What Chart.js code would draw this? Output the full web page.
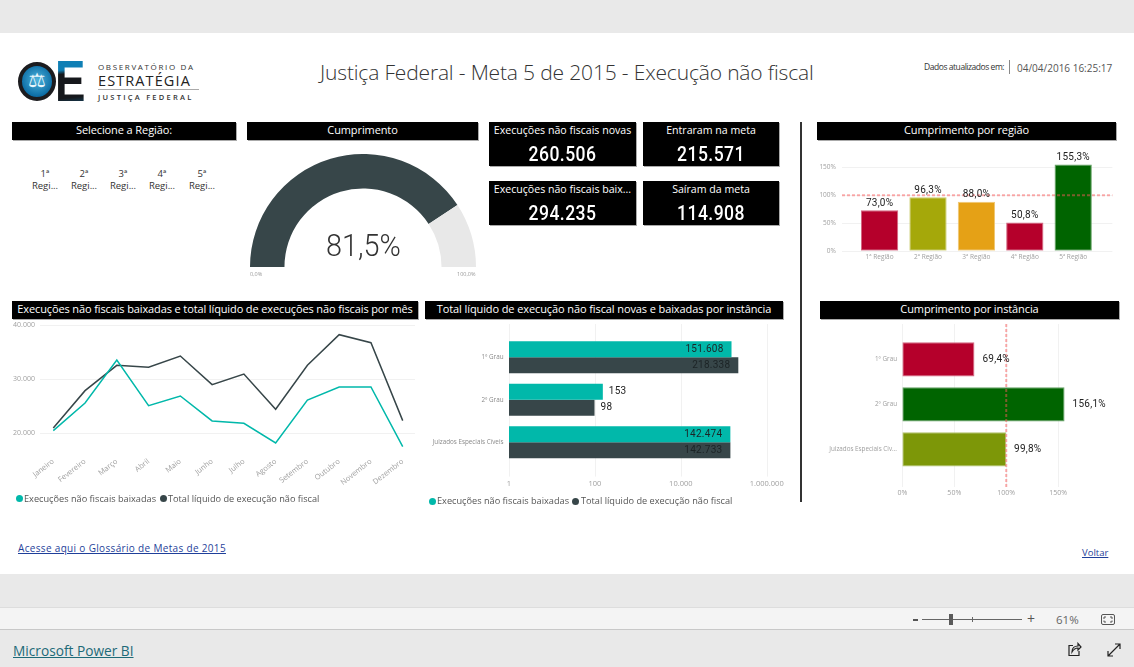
<!DOCTYPE html>
<html lang="pt-BR"><head><meta charset="utf-8">
<script src="https://cdn.jsdelivr.net/npm/chart.js@4"></script>
<style>
html,body{margin:0;padding:0;width:1134px;height:667px;overflow:hidden;background:#e9e9e9;font-family:"Open Sans",sans-serif}
.a{position:absolute;white-space:nowrap}
canvas{position:absolute}
.hd{position:absolute;background:#000;color:#fff;text-align:center;height:18px;line-height:16px;font-size:11px;letter-spacing:-.1px;box-shadow:1px 1px 0 #aaa;white-space:nowrap;overflow:hidden}
.kpi{position:absolute;background:#000;color:#fff;text-align:center;box-shadow:1px 1px 0 #aaa;overflow:hidden}
.kpi .t{font-size:10.6px;line-height:13px;margin-top:2px;white-space:nowrap}
.kpi .v{font-family:Roboto,sans-serif;font-weight:500;font-size:19.5px;line-height:24px;margin-top:6px;letter-spacing:.5px;transform:scaleX(.9)}
.sl{position:absolute;width:40px;text-align:center;font-size:9.5px;line-height:12px;color:#333;top:168px}
.lg{position:absolute;font-size:9.2px;color:#555;white-space:nowrap;line-height:12px}
.dot{position:absolute;width:7px;height:7px;border-radius:50%}
a{color:#1f3f9a}
</style></head><body>
<div class="a" style="left:0;top:33px;width:1134px;height:541px;background:#fff"></div>
<div class="a" style="left:0;top:607px;width:1134px;height:23px;background:#f4f4f4;border-top:1px solid #ddd;border-bottom:1px solid #c8c8c8;box-sizing:border-box"></div>

<!-- logo -->
<div class="a" style="left:18px;top:62px;width:30px;height:31px;border:4.5px solid #1c1c1f;border-radius:50%;background:radial-gradient(circle at 50% 45%,#4fb4dc,#0d6ea6 70%,#0a4a78);text-align:center;color:#eaf7fc;font:20px/29px 'DejaVu Sans'">⚖</div>
<div class="a" style="left:55px;top:48px;font:bold 57px/66px 'Liberation Sans';background:linear-gradient(175deg,#0f7fb5 0 33%,#16181c 39% 74%,#14405a 84%);-webkit-background-clip:text;background-clip:text;color:transparent;transform:scaleX(.8);transform-origin:left top">E</div>
<div class="a" style="left:98px;top:61px;font-size:8px;line-height:11px;letter-spacing:1.65px;color:#333">OBSERVATÓRIO DA</div>
<div class="a" style="left:98px;top:72px;font-size:14.5px;line-height:18px;letter-spacing:1.1px;color:#222">ESTRATÉGIA</div>
<div class="a" style="left:98px;top:89px;width:101px;height:1px;background:#aaa"></div>
<div class="a" style="left:98px;top:92px;font-size:7.5px;line-height:10px;font-weight:600;letter-spacing:2.25px;color:#333">JUSTIÇA FEDERAL</div>

<div class="a" id="title" style="left:320px;top:57px;font-size:21px;line-height:30px;font-weight:300;color:#333;letter-spacing:-.16px">Justiça Federal - Meta 5 de 2015 - Execução não fiscal</div>
<div class="a" style="left:924px;top:61px;font-size:8.5px;line-height:12px;color:#333;letter-spacing:-.45px">Dados atualizados em:</div>
<div class="a" style="left:1009px;top:60px;width:1px;height:14px;background:#888"></div>
<div class="a" style="left:1017px;top:61px;font-size:10px;line-height:14px;color:#555">04/04/2016 16:25:17</div>

<div class="hd" style="left:12px;top:122px;width:224px">Selecione a Região:</div>
<div class="hd" style="left:247px;top:122px;width:231px">Cumprimento</div>
<div class="hd" style="left:817px;top:122px;width:299px">Cumprimento por região</div>
<div class="hd" style="left:12px;top:301px;width:406px;letter-spacing:-.12px">Execuções não fiscais baixadas e total líquido de execuções não fiscais por mês</div>
<div class="hd" style="left:425px;top:301px;width:358px;letter-spacing:-.1px">Total líquido de execução não fiscal novas e baixadas por instância</div>
<div class="hd" style="left:820px;top:301px;width:299px">Cumprimento por instância</div>

<div class="sl" style="left:25px">1ª<br>Regi...</div>
<div class="sl" style="left:64px">2ª<br>Regi...</div>
<div class="sl" style="left:103px">3ª<br>Regi...</div>
<div class="sl" style="left:142px">4ª<br>Regi...</div>
<div class="sl" style="left:182px">5ª<br>Regi...</div>

<div class="kpi" style="left:489px;top:122px;width:147px;height:44px"><div class="t">Execuções não fiscais novas</div><div class="v">260.506</div></div>
<div class="kpi" style="left:643px;top:122px;width:136px;height:44px"><div class="t">Entraram na meta</div><div class="v">215.571</div></div>
<div class="kpi" style="left:489px;top:181px;width:147px;height:44px"><div class="t">Execuções não fiscais baix...</div><div class="v">294.235</div></div>
<div class="kpi" style="left:643px;top:181px;width:136px;height:44px"><div class="t">Saíram da meta</div><div class="v">114.908</div></div>

<div class="a" style="left:800px;top:122px;width:2px;height:380px;background:#333"></div>

<canvas id="gauge"></canvas>
<div class="a" style="left:322px;top:224px;width:80px;text-align:center;font-family:Roboto;font-weight:300;font-size:32px;line-height:42px;color:#333;transform:scaleX(.9)">81,5%</div>
<div class="a" style="left:250px;top:270px;font-size:5.5px;line-height:8px;color:#999">0,0%</div>
<div class="a" style="left:457px;top:270px;font-size:5.5px;line-height:8px;color:#999">100,0%</div>

<canvas id="line"></canvas>
<canvas id="inst"></canvas>
<canvas id="region"></canvas>
<canvas id="comp"></canvas>

<div class="dot" style="left:16px;top:495px;background:#01B8AA"></div>
<div class="lg" style="left:24px;top:493px">Execuções não fiscais baixadas</div>
<div class="dot" style="left:160px;top:495px;background:#374649"></div>
<div class="lg" style="left:168px;top:493px">Total líquido de execução não fiscal</div>
<div class="dot" style="left:429px;top:498px;background:#01B8AA"></div>
<div class="lg" style="left:437px;top:495px">Execuções não fiscais baixadas</div>
<div class="dot" style="left:572px;top:498px;background:#374649"></div>
<div class="lg" style="left:581px;top:495px">Total líquido de execução não fiscal</div>

<a class="a" href="#" style="left:18px;top:541px;font-size:10px;line-height:14px;letter-spacing:.33px">Acesse aqui o Glossário de Metas de 2015</a>
<a class="a" href="#" style="left:1082px;top:546px;font-size:9.5px;line-height:14px">Voltar</a>

<!-- toolbar -->
<div class="a" style="left:913px;top:619px;width:5px;height:2px;background:#555"></div>
<div class="a" style="left:922px;top:619px;width:100px;height:1px;background:#666"></div>
<div class="a" style="left:949px;top:614px;width:4px;height:11px;background:#5a5a5a"></div>
<div class="a" style="left:972px;top:617px;width:1px;height:5px;background:#666"></div>
<div class="a" style="left:1027px;top:611px;font-size:14px;line-height:16px;color:#555">+</div>
<div class="a" style="left:1056px;top:612px;font-size:11.5px;line-height:15px;color:#666">61%</div>
<svg class="a" style="left:1100px;top:613px" width="16" height="13" fill="none" stroke="#555"><rect x="1.5" y="1.5" width="13" height="10" rx="1.5"/><path d="M4 6V4h2M10 4h2v2M12 7.5V9h-2M6 9H4V7.5"/></svg>
<a class="a" href="#" style="left:13px;top:642px;font-size:13.7px;line-height:18px;color:#1d6a78">Microsoft Power BI</a>
<svg class="a" style="left:1067px;top:642px" width="15" height="15" fill="none" stroke="#222" stroke-width="1.2"><path d="M6 3.500H2v10h10V9"/><path d="M5 10c0-4 2.500-6 6-6V1.500l3 3.500-3 3V6c-3 0-4.500 1.500-6 4z"/></svg>
<svg class="a" style="left:1107px;top:643px" width="14" height="14" fill="none" stroke="#222" stroke-width="1.2"><path d="M1 13 13 1M8 1h5v5M1 8v5h5"/></svg>

<script>
// ---- data ----
const months = ["Janeiro","Fevereiro","Março","Abril","Maio","Junho","Julho","Agosto","Setembro","Outubro","Novembro","Dezembro"];
const baixadasMes = [20490,25580,33500,25090,26870,22270,21840,18220,26130,28530,28530,17550];
const liquidoMes  = [20980,27850,32520,32150,34230,28960,30920,24420,32520,38160,36690,22330];
const lineTicks = [20000,30000,40000];
const regions = ["1ª Região","2ª Região","3ª Região","4ª Região","5ª Região"];
const regionValues = [73.0,96.3,88.0,50.8,155.3];
const regionTicks = [0,50,100,150];
const instancias = ["1º Grau","2º Grau","Juizados Especiais Cíveis"];
const baixadasInst = [151608,153,142474];
const liquidoInst  = [218338,98,142733];
const logTicks = [1,100,10000,1000000];
const instShort = ["1º Grau","2º Grau","Juizados Especiais Civ..."];
const compValues = [69.4,156.1,99.8];
const compTicks = [0,50,100,150];
const gaugeValues = [81.5,18.5];
const metaRef = 100;

// ---- colours ----
const teal="#01B8AA", slate="#374649", red="#B5002B", olive="#A5A80A", orange="#E5A116", green="#006400", moss="#7D9708";
const regionColors=[red,olive,orange,red,green];
const compColors=[red,green,moss];
const gridCol="#f1f1f1", tickCol="#a0a0a0";
const tint=(hex,k=.4)=>{const n=parseInt(hex.slice(1),16),c=[n>>16,(n>>8)&255,n&255].map(v=>Math.round(v+(255-v)*k));return `rgb(${c})`;};

// ---- helpers ----
Chart.defaults.animation=false;
Chart.defaults.responsive=false;
Chart.defaults.font.family="'Open Sans',sans-serif";
Chart.defaults.plugins.legend.display=false;
Chart.defaults.plugins.tooltip.enabled=false;

function box(id,l,t,w,h){const c=document.getElementById(id);c.width=w;c.height=h;c.style.left=l+'px';c.style.top=t+'px';c.style.width=w+'px';c.style.height=h+'px';return c;}
const fit=size=>s=>{if(s.isHorizontal())s.height=size;else s.width=size;s.paddingLeft=s.paddingRight=s.paddingTop=s.paddingBottom=0;};
const setTicks=vals=>s=>{s.ticks=vals.map(v=>({value:v}));};
const thousands=v=>String(v).replace(/\B(?=(\d{3})+$)/g,'.');
const pct=v=>v.toFixed(1).replace('.',',')+'%';
const noGrid={display:false,drawTicks:false,drawBorder:false};
const tickFont=(s)=>({size:s});

function gridPlugin(axis,a,b){return{id:'softGrid',beforeDatasetsDraw(ch){
  const {ctx,chartArea:r}=ch,s=ch.scales[axis];ctx.save();ctx.strokeStyle=gridCol;ctx.lineWidth=1;
  s.ticks.forEach(t=>{const p=Math.round(s.getPixelForValue(t.value))+.5;ctx.beginPath();
    if(axis==='y'){ctx.moveTo(r.left-a,p);ctx.lineTo(r.right+b,p);}else{ctx.moveTo(p,r.top-a);ctx.lineTo(p,r.bottom+b);}
    ctx.stroke();});ctx.restore();}};}
function refPlugin(axis,a,b){return{id:'refLine',afterDatasetsDraw(ch){
  const {ctx,chartArea:r}=ch,s=ch.scales[axis],p=s.getPixelForValue(metaRef);ctx.save();
  ctx.strokeStyle="rgba(250,90,90,.5)";ctx.lineWidth=2;ctx.setLineDash([3,2]);ctx.beginPath();
  if(axis==='y'){ctx.moveTo(r.left-a,p);ctx.lineTo(r.right+b,p);}else{ctx.moveTo(p,r.top-a);ctx.lineTo(p,r.bottom+b);}
  ctx.stroke();ctx.restore();}};}
function labelPlugin(fmt,place){return{id:'valueLabels',afterDatasetsDraw(ch){
  const ctx=ch.ctx;ctx.save();ctx.font="10px Roboto,sans-serif";ctx.letterSpacing="0.25px";ctx.fillStyle="#222";
  ch.data.datasets.forEach((d,di)=>ch.getDatasetMeta(di).data.forEach((el,i)=>{place(ctx,el,fmt(d.data[i]));}));
  ctx.restore();}};}
const above=(ctx,el,t)=>{ctx.textAlign='center';ctx.textBaseline='bottom';ctx.fillText(t,el.x,el.y-2);};
const right=(ctx,el,t)=>{ctx.textAlign='left';ctx.textBaseline='middle';ctx.fillText(t,el.x+8,el.y);};
const inOut=(ctx,el,t)=>{ctx.textBaseline='middle';if(el.x-el.base>120){ctx.textAlign='right';ctx.fillStyle="#1c2426";ctx.fillText(t,el.x-8,el.y);}else{ctx.textAlign='left';ctx.fillStyle="#222";ctx.fillText(t,el.x+6,el.y);}};

// ---- gauge ----
new Chart(box('gauge',249.5,153.5,226,113),{type:'doughnut',
  data:{labels:['Cumprimento','Restante'],datasets:[{data:gaugeValues,backgroundColor:[slate,'#E8E8E8'],borderWidth:0}]},
  options:{rotation:-90,circumference:180,cutout:'69.5%'}});

// ---- monthly line chart ----
new Chart(box('line',0,320,425,168),{type:'line',
  data:{labels:months,datasets:[
    {label:'Execuções não fiscais baixadas',data:baixadasMes,borderColor:teal,borderWidth:1.5,pointRadius:0,tension:0},
    {label:'Total líquido de execução não fiscal',data:liquidoMes,borderColor:slate,borderWidth:1.5,pointRadius:0,tension:0}]},
  options:{layout:{padding:{top:4.7,right:6.4,left:0,bottom:0}},
    scales:{
      x:{offset:true,grid:noGrid,border:{display:false},afterFit:fit(33),ticks:{autoSkip:false,minRotation:38,maxRotation:38,padding:2,color:tickCol,font:tickFont(7.5)}},
      y:{min:16000,max:40000,grid:noGrid,border:{display:false},afterFit:fit(37.4),afterBuildTicks:setTicks(lineTicks),ticks:{padding:2.5,color:tickCol,font:tickFont(7),callback:thousands}}}},
  plugins:[gridPlugin('y',-2.6,-3.6)]});

// ---- instance bars (log) ----
new Chart(box('inst',425,320,362,175),{type:'bar',
  data:{labels:instancias,datasets:[
    {label:'Execuções não fiscais baixadas',data:baixadasInst,backgroundColor:teal,borderWidth:0},
    {label:'Total líquido de execução não fiscal',data:liquidoInst,backgroundColor:slate,borderWidth:0}]},
  options:{indexAxis:'y',layout:{padding:{top:16,right:20.3,left:0,bottom:0}},
    datasets:{bar:{categoryPercentage:.7525,barPercentage:1}},
    scales:{
      x:{type:'logarithmic',min:1,max:1000000,grid:noGrid,border:{display:false},afterFit:fit(31.4),afterBuildTicks:setTicks(logTicks),ticks:{padding:16,color:tickCol,font:tickFont(7.5),maxRotation:0,callback:thousands}},
      y:{grid:noGrid,border:{display:false},afterFit:fit(84),ticks:{padding:5.5,color:'#8a8a8a',font:tickFont(6.3)}}}},
  plugins:[gridPlugin('x',12,13),labelPlugin(thousands,inOut)]});

// ---- compliance by region ----
new Chart(box('region',810,150,310,120),{type:'bar',
  data:{labels:regions,datasets:[{label:'Cumprimento por região',data:regionValues,backgroundColor:regionColors,borderColor:regionColors.map(c=>tint(c)),borderWidth:1,borderSkipped:false}]},
  options:{layout:{padding:{top:11.8,right:22.6,left:0,bottom:0}},
    datasets:{bar:{categoryPercentage:1,barPercentage:.77}},
    scales:{
      x:{grid:noGrid,border:{display:false},afterFit:fit(19.3),ticks:{padding:3,color:tickCol,font:tickFont(6.5),maxRotation:0,autoSkip:false}},
      y:{min:0,max:160,grid:noGrid,border:{display:false},afterFit:fit(45.4),afterBuildTicks:setTicks(regionTicks),ticks:{padding:19.5,color:tickCol,font:tickFont(6.5),callback:v=>v+'%'}}}},
  plugins:[gridPlugin('y',13.4,15),refPlugin('y',13.4,15),labelPlugin(pct,above)]});

// ---- compliance by instance ----
new Chart(box('comp',810,320,300,180),{type:'bar',
  data:{labels:instShort,datasets:[{label:'Cumprimento por instância',data:compValues,backgroundColor:compColors,borderColor:compColors.map(c=>tint(c)),borderWidth:1,borderSkipped:false}]},
  options:{indexAxis:'y',layout:{padding:{top:16.8,right:31,left:0,bottom:0}},
    datasets:{bar:{categoryPercentage:1,barPercentage:.76}},
    scales:{
      x:{min:0,max:170,grid:noGrid,border:{display:false},afterFit:fit(28),afterBuildTicks:setTicks(compTicks),ticks:{padding:17,color:tickCol,font:tickFont(7),maxRotation:0,callback:v=>v+'%'}},
      y:{grid:noGrid,border:{display:false},afterFit:fit(92.3),ticks:{padding:5.3,color:tickCol,font:tickFont(6.3)}}}},
  plugins:[gridPlugin('x',12.8,15),refPlugin('x',12.8,15),labelPlugin(pct,right)]});
</script>
</body></html>
